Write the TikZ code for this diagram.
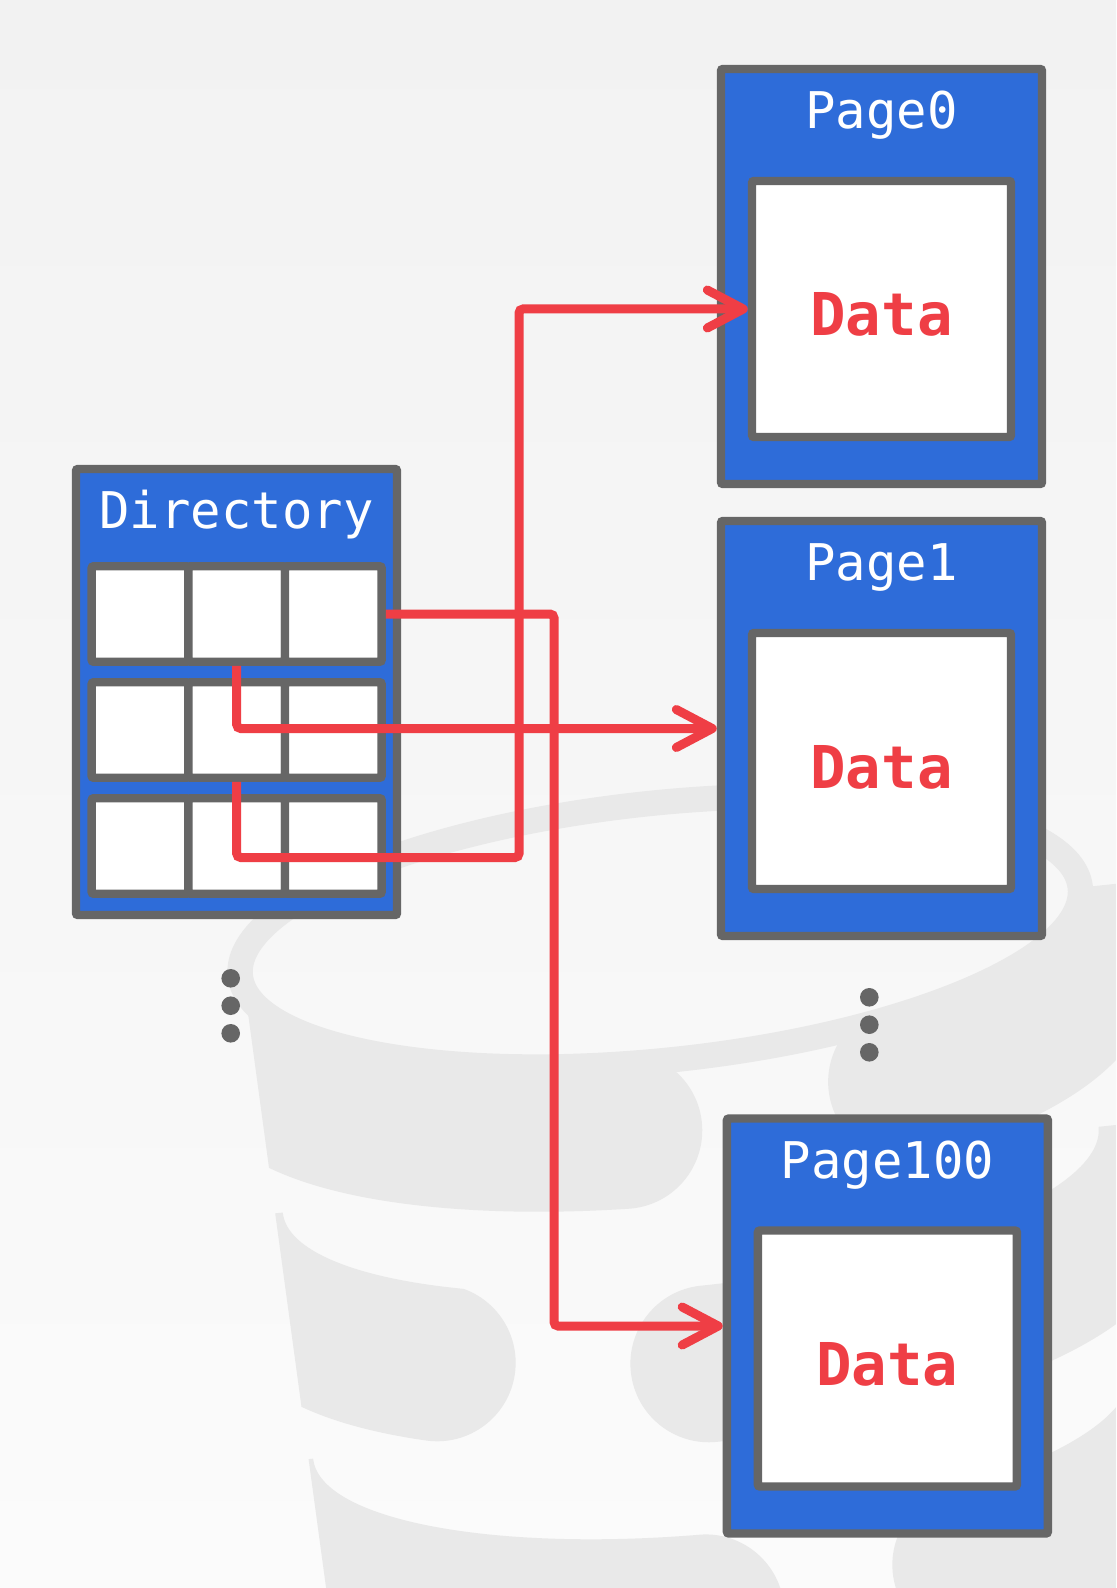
\documentclass[tikz,border=0pt]{standalone}
\usepackage{fontspec}
\newfontfamily\diagmono{DejaVu Sans Mono}
\usetikzlibrary{arrows.meta,positioning}
\definecolor{pageblue}{HTML}{2E6CD9}
\definecolor{edgegray}{HTML}{666666}
\definecolor{linkred}{HTML}{EF3E45}
\definecolor{logogray}{HTML}{E9E9E9}
\definecolor{bgtop}{HTML}{F2F2F2}
\definecolor{bgbottom}{HTML}{FBFBFB}

\begin{document}
\begin{tikzpicture}[x=0.5pt, y=-0.5pt,
  box/.style={draw=edgegray, line width=4.2pt, inner sep=0pt, rounded corners=1pt},
  pagebox/.style={box, fill=pageblue, minimum width=160.5pt, minimum height=207.5pt},
  dirbox/.style={box, fill=pageblue, minimum width=160.5pt, minimum height=223pt},
  databox/.style={box, fill=white, minimum width=129.5pt, minimum height=128pt,
    text height=27pt, text depth=0pt, text=linkred,
    font=\diagmono\bfseries\fontsize{29.5pt}{33pt}\selectfont},
  cell/.style={box, fill=white, minimum width=48.35pt, minimum height=47.75pt},
  title/.style={anchor=base, inner sep=0pt, text=white,
    font=\diagmono\fontsize{25.3pt}{30pt}\selectfont},
  link/.style={draw=linkred, line width=4.5pt, rounded corners=2pt,
    -{Straight Barb[length=18pt, width=19pt, round]}},
  moredot/.style={circle, fill=edgegray, inner sep=0pt, minimum size=9.3pt},
  logoline/.style={draw=logogray, line width=78.5pt, line cap=round}
]
\fill[top color=bgtop, bottom color=bgbottom] (0,0) rectangle (1116,1588);
\useasboundingbox (0,0) rectangle (1116,1588);

% faint database logo in the background
\begin{scope}[scale=1.0127]
  \foreach \tx/\ty/\ga/\gb in {652/920/98/56, 682/1155/131.6/90.3, 712/1398/95/55.4} {
    \begin{scope}
      \clip (236,835) -- (236,935) -- (322,1568) -- (1102,1568) -- (1102,835) -- cycle;
      \begin{scope}[shift={(\tx,\ty)}, rotate=6]
        \clip (-600,0) -- (-405,0) arc[start angle=180, end angle=0, x radius=405, y radius=115]
          -- (600,0) -- (600,800) -- (-600,800) -- cycle;
        \draw[logoline, shift={(0,77.5)}] (200:405 and 115)
          arc[start angle=200, end angle=\ga, x radius=405, y radius=115];
        \draw[logoline, shift={(0,77.5)}] (\gb:405 and 115)
          arc[start angle=\gb, end angle=-20, x radius=405, y radius=115];
      \end{scope}
    \end{scope}
  }
  \draw[logogray, line width=12.7pt, shift={(652,920)}, rotate=6]
    (0,0) ellipse [x radius=417, y radius=127];
\end{scope}

% directory with its slots
\node[dirbox] (dir) at (236.5,692) {};
\node[title] (dirname) at ([yshift=-32pt]dir.north) {Directory};
\foreach \r/\y in {1/614, 2/730, 3/846}
  \foreach \c/\x in {1/140, 2/236.7, 3/333.3}
    \node[cell] (slot\r\c) at (\x,\y) {};

% pages
\foreach \p/\x/\y in {0/881.5/276.5, 1/881.5/728.5, 100/887.4/1326} {
  \node[pagebox] (page\p) at (\x,\y) {};
  \node[title] (pagename\p) at ([yshift=-32pt]page\p.north) {Page\p};
  \node[databox, below=56pt of page\p.north] (data\p) {Data};
}

\foreach \i/\y in {1/978.3, 2/1005.7, 3/1033.3}
  \node[moredot] (dotl\i) at (230.7,\y) {};
\foreach \i/\y in {1/997.3, 2/1024.7, 3/1052.3}
  \node[moredot] (dotr\i) at (869.3,\y) {};

% pointers
\coordinate (trunk0) at (519,857.5);
\coordinate (trunk100) at (554,1326);
\draw[link] (slot22.south) |- (trunk0) |- (data0.west);
\draw[link] (slot12.south) |- (page1.west);
\draw[link] (slot13.east) -| (trunk100) -- (page100.west);
\end{tikzpicture}
\end{document}
